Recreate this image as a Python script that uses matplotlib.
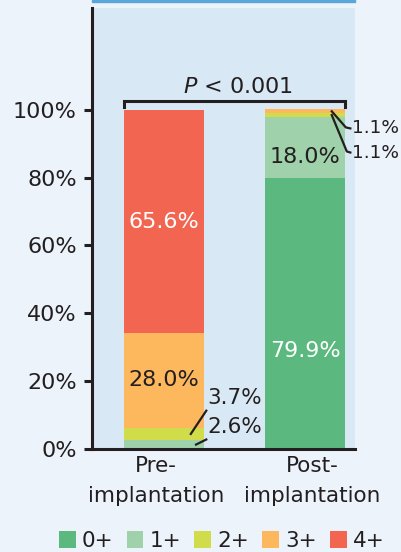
import matplotlib
matplotlib.use("Agg")
from matplotlib import pyplot as plt
from matplotlib.patches import Patch, Rectangle
from matplotlib.transforms import ScaledTranslation

plt.rcParams['font.family'] = ['DejaVu Sans']

groups = ["Pre-\nimplantation", "Post-\nimplantation"]
grades = ["0+", "1+", "2+", "3+", "4+"]
pre_vals = [0.0, 2.6, 3.7, 28.0, 65.6]
post_vals = [79.9, 18.0, 1.1, 1.1, 0.0]
colors = ["#5bb87e", "#9fd1ab", "#d1dc4a", "#fdb85d", "#f26651"]
ytick_vals = [0, 20, 40, 60, 80, 100]

txt = "#231f20"
fig = plt.figure(figsize=(4.02, 5.52), dpi=100, facecolor="#edf3fb")
ax = fig.add_axes([92 / 402, 103 / 552, 263 / 402, 441 / 552])
ax.set_facecolor("#d9e8f5")

# blue strip at top
fig.patches.append(Rectangle((92 / 402, 550 / 552), 263 / 402, 2 / 552,
                             transform=fig.transFigure, color="#5aa6da"))

x = [0, 1]
w = 0.567
bottoms = [0.0, 0.0]
for i, g in enumerate(grades):
    h = [pre_vals[i], post_vals[i]]
    ax.bar(x, h, w, bottom=bottoms, color=colors[i], linewidth=0)
    bottoms = [bottoms[0] + h[0], bottoms[1] + h[1]]

ax.set_xlim(-0.511, 1.355)
ax.set_ylim(0, 130)

fs = 16
# labels in bars
ax.text(0, 67, "65.6%", color="white", ha="center", va="center", fontsize=fs)
ax.text(0, 20.2, "28.0%", color=txt, ha="center", va="center", fontsize=fs)
ax.text(1, 29, "79.9%", color="white", ha="center", va="center", fontsize=fs)
ax.text(1, 86, "18.0%", color=txt, ha="center", va="center", fontsize=fs)

# small values with leader lines
ax.text(0.305, 15.1, "3.7%", color=txt, ha="left", va="center", fontsize=fs - 0.5)
ax.text(0.305, 6.4, "2.6%", color=txt, ha="left", va="center", fontsize=fs - 0.5)
ax.plot([0.19, 0.3], [4.45, 11.3], color=txt, lw=1.6, clip_on=False)
ax.plot([0.227, 0.3], [1.3, 2.8], color=txt, lw=1.6, clip_on=False)

# the 1.1% labels sit outside the axes, a bit smaller so they fit
small = dict(color=txt, ha="left", va="center", fontsize=13.3, clip_on=False)
ax.text(1.335, 94.6, "1.1%", **small)
ax.text(1.335, 87.4, "1.1%", **small)
ax.plot([1.19, 1.29, 1.322], [99.55, 94.8, 94.5], color=txt, lw=1.6, clip_on=False)
ax.plot([1.19, 1.297, 1.322], [98.45, 87.7, 87.4], color=txt, lw=1.6, clip_on=False)

# bracket and P value
ax.plot([-0.2835, -0.2835, 1.2835, 1.2835], [100.9, 102.6, 102.6, 100.9],
        color=txt, lw=2.2, solid_joinstyle="miter")
ax.text(0.525, 104.8, r"$\it{P}$ < 0.001", color=txt, ha="center", va="baseline",
        fontsize=fs)

ax.set_yticks(ytick_vals, ["{}%".format(v) for v in ytick_vals])
ax.set_xticks(x, groups)
ax.tick_params(axis="y", length=6, width=2.2, pad=5, labelsize=fs, colors=txt)
ax.tick_params(axis="x", length=0, pad=5, labelsize=fs - 0.5, colors=txt)
for lab, dx in zip(ax.get_xticklabels(), [-8, 7]):
    lab.set_linespacing(1.65)
    lab.set_transform(lab.get_transform() + ScaledTranslation(dx / 100, 0, fig.dpi_scale_trans))

for s in ["top", "right"]:
    ax.spines[s].set_visible(False)
for s in ["left", "bottom"]:
    ax.spines[s].set_linewidth(2.2)
    ax.spines[s].set_color(txt)

handles = [Patch(facecolor=c, edgecolor="none") for c in colors]
fig.legend(handles, grades, loc="center", bbox_to_anchor=(222 / 402, 11 / 552),
           ncol=5, frameon=False, fontsize=15.5, handlelength=0.78, handleheight=0.78,
           handletextpad=0.3, columnspacing=0.6, labelcolor=txt, borderpad=0)

fig.savefig("out.png", dpi=100, facecolor=fig.get_facecolor())
